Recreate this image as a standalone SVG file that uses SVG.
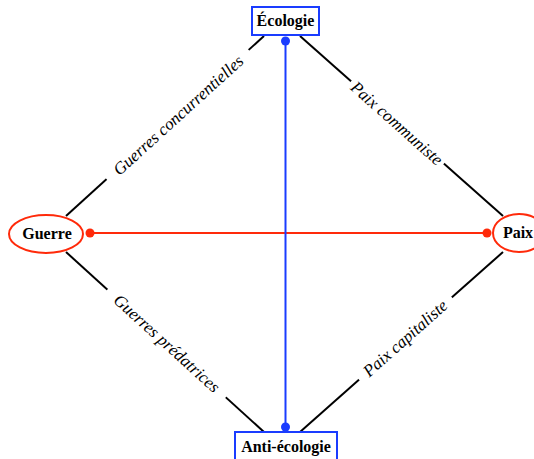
<svg xmlns="http://www.w3.org/2000/svg" width="534" height="459" viewBox="0 0 534 459">
  <style>
    .edge { stroke: #000; stroke-width: 2; fill: none; }
    .lbl { font-family: "Liberation Serif", "Times New Roman", serif; font-style: italic; font-size: 17px; fill: #000; text-anchor: middle; }
    .node { font-family: "Liberation Serif", "Times New Roman", serif; font-weight: bold; font-size: 16px; fill: #000; text-anchor: middle; }
    .blue { stroke: #1a3cff; }
    .red { stroke: #ff2a0a; }
    .gap { fill: #fff; }
  </style>

  <g id="connectors">
    <line class="edge" x1="66" y1="216" x2="264" y2="36"/>
    <line class="edge" x1="300" y1="36" x2="503" y2="216"/>
    <line class="edge" x1="66" y1="252" x2="264" y2="432"/>
    <line class="edge" x1="503" y1="252" x2="300" y2="432"/>

    <g transform="translate(178,115) rotate(-42.3)">
      <rect class="gap" x="-96" y="-10" width="192" height="20"/>
      <text class="lbl" x="0" y="6">Guerres concurrentielles</text>
    </g>
    <g transform="translate(397,123) rotate(41.6)">
      <rect class="gap" x="-62" y="-10" width="124" height="20"/>
      <text class="lbl" x="0" y="6">Paix communiste</text>
    </g>
    <g transform="translate(167,343) rotate(42.3)">
      <rect class="gap" x="-80" y="-10" width="160" height="20"/>
      <text class="lbl" x="0" y="6">Guerres prédatrices</text>
    </g>
    <g transform="translate(405,338) rotate(-41.6)">
      <rect class="gap" x="-62" y="-10" width="124" height="20"/>
      <text class="lbl" x="0" y="6">Paix capitaliste</text>
    </g>

    <line class="red" stroke-width="2" x1="90" y1="233" x2="487" y2="233"/>
    <circle cx="90" cy="233" r="4.5" fill="#ff2a0a"/>
    <circle cx="487" cy="233" r="4.5" fill="#ff2a0a"/>

    <line class="blue" stroke-width="2" x1="285.5" y1="41" x2="285.5" y2="427"/>
    <circle cx="285.5" cy="41" r="4.5" fill="#1a3cff"/>
    <circle cx="285.5" cy="427" r="4.5" fill="#1a3cff"/>
  </g>

  <g id="ecologie">
    <rect x="252" y="7" width="67" height="28" fill="#fff" stroke="#1a3cff" stroke-width="2"/>
    <text class="node" x="285.5" y="26">Écologie</text>
  </g>
  <g id="anti-ecologie">
    <rect x="235" y="432" width="102" height="30" fill="#fff" stroke="#1a3cff" stroke-width="2"/>
    <text class="node" x="286" y="452">Anti-écologie</text>
  </g>
  <g id="guerre">
    <ellipse cx="46" cy="234" rx="37" ry="19" fill="#fff" stroke="#ff2a0a" stroke-width="2"/>
    <text class="node" x="47" y="239">Guerre</text>
  </g>
  <g id="paix">
    <ellipse cx="519" cy="233" rx="26" ry="19" fill="#fff" stroke="#ff2a0a" stroke-width="2"/>
    <text class="node" x="518" y="238">Paix</text>
  </g>
</svg>
